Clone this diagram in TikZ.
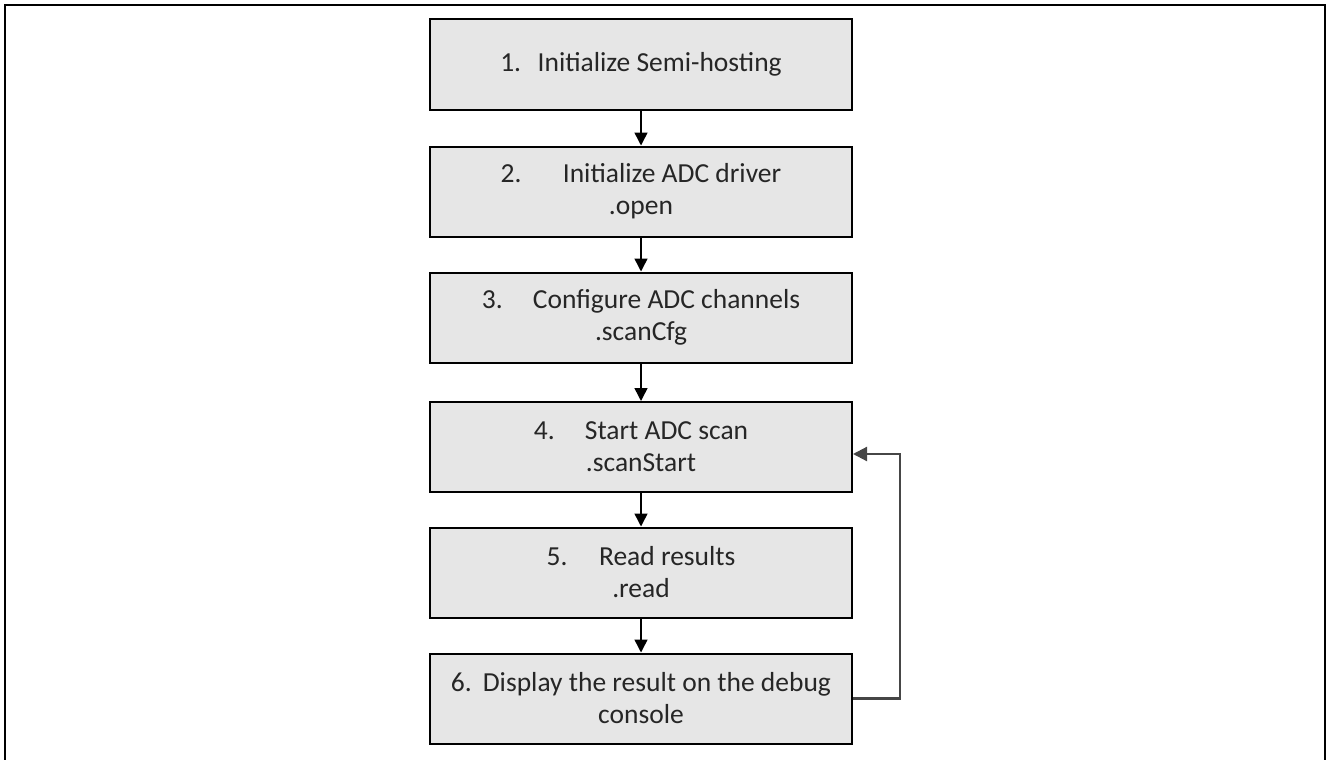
\documentclass[tikz,border=0pt]{standalone}
\usepackage{fontspec}
\setmainfont{Carlito}
\usetikzlibrary{arrows.meta}
\definecolor{boxfill}{RGB}{230,230,230}
\definecolor{txt}{RGB}{38,38,38}
\definecolor{loopgray}{RGB}{70,70,70}
\tikzset{
  stepbox/.style={draw=black, line width=2pt, fill=boxfill, minimum width=422pt, minimum height=90pt, inner sep=0pt, align=center, text=txt, font=\fontsize{27.5}{32}\selectfont},
  flow/.style={line width=1.5pt, -{Triangle[length=13pt,width=13pt]}},
  loopline/.style={draw=loopgray, line width=2.2pt, -{Triangle[length=14pt,width=14pt]}}
}
\begin{document}
\begin{tikzpicture}[x=1pt,y=-1pt]
\clip (0,0) rectangle (1326,760);
\draw[line width=2pt] (5,5) rectangle (1325,800);
\node[stepbox] (b1) at (641,64.5) {1.\hspace{0.6em}Initialize Semi-hosting};
\node[stepbox] (b2) at (641,191.5) {2.\hspace{1.5em}Initialize ADC driver\\.open};
\node[stepbox] (b3) at (641,317.5) {3.\hspace{1.1em}Configure ADC channels\\.scanCfg};
\node[stepbox] (b4) at (641,447) {4.\hspace{1.1em}Start ADC scan\\.scanStart};
\node[stepbox] (b5) at (641,572.5) {5.\hspace{1.15em}Read results\\.read};
\node[stepbox] (b6) at (641,698.5) {6.\hspace{0.4em}Display the result on the debug\\console};
\draw[flow] (b1) -- (b2);
\draw[flow] (b2) -- (b3);
\draw[flow] (b3) -- (b4);
\draw[flow] (b4) -- (b5);
\draw[flow] (b5) -- (b6);
\coordinate (loop) at (900,454);
\draw[loopline] (b6.east) -| (loop) -- (b4.east |- loop);
\end{tikzpicture}
\end{document}
